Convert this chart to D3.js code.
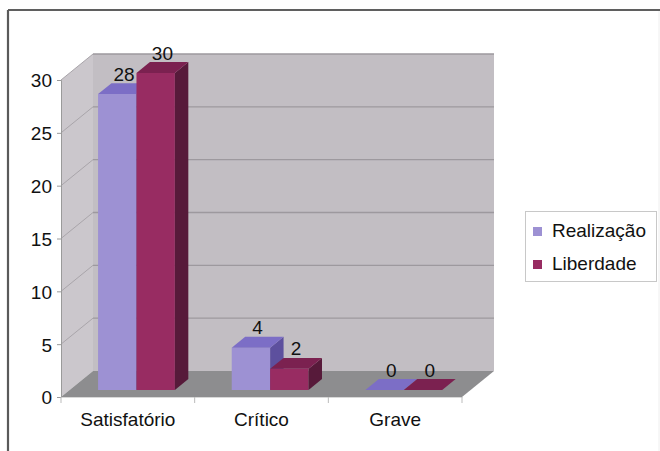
<!DOCTYPE html>
<html><head><meta charset="utf-8">
<script src="https://cdn.jsdelivr.net/npm/d3@7"></script>
<style>html,body{margin:0;padding:0;background:#fff;}svg{display:block;}</style>
</head><body>
<svg id="chart" width="660" height="451"></svg>
<script>
const categories = ["Satisfatório", "Crítico", "Grave"];
const seriesNames = ["Realização", "Liberdade"];
const realizacao = [28, 4, 0];
const liberdade = [30, 2, 0];
const yTicks = [0, 5, 10, 15, 20, 25, 30];

const seriesValues = [realizacao, liberdade];
const faceColors = {
  "Realização": {front: "#9d91d3", top: "#7c6ec6", side: "#5d509e"},
  "Liberdade": {front: "#982c62", top: "#7b2150", side: "#571a3a"}
};

const svg = d3.select("#chart");
const font = "'Liberation Sans', Arial, sans-serif";

// frame
svg.append("line").attr("x1", 8).attr("y1", 10).attr("x2", 660).attr("y2", 10)
  .attr("stroke", "#2a2a2a").attr("stroke-width", 1.6);
svg.append("line").attr("x1", 8).attr("y1", 10).attr("x2", 8).attr("y2", 451)
  .attr("stroke", "#5a5a5a").attr("stroke-width", 2.2);
svg.append("line").attr("x1", 659).attr("y1", 11).attr("x2", 659).attr("y2", 451)
  .attr("stroke", "#eeeeee").attr("stroke-width", 1);

// scales
const x = d3.scaleBand().domain(categories).range([61, 462]).paddingInner(0).paddingOuter(0);
const xs = d3.scaleBand().domain(seriesNames).range([0, x.bandwidth()]).paddingInner(0).paddingOuter(0.74);
const y = d3.scaleLinear().domain([0, 30]).range([397, 80]);
const DX = 32, DY = -26; // full depth offset
const z0 = 0.27, z1 = 0.69;
const P = (px, py, z) => [px + DX * z, py + DY * z];
const poly = pts => pts.map(p => p.join(",")).join(" ");

const x0 = x.range()[0], x1 = x.range()[1];
const y0 = y(0), yTop = y(30);

// walls
const g = svg.append("g");
g.append("polygon").attr("points", poly([P(x0, yTop, 1), P(x1, yTop, 1), P(x1, y0, 1), P(x0, y0, 1)]))
  .attr("fill", "#c2bec3");
g.append("polygon").attr("points", poly([P(x0, yTop, 0), P(x0, yTop, 1), P(x0, y0, 1), P(x0, y0, 0)]))
  .attr("fill", "#cbc7cc");
g.append("polygon").attr("points", poly([P(x0, y0, 0), P(x0, y0, 1), P(x1, y0, 1), P(x1, y0, 0)]))
  .attr("fill", "#8d8d8f");

// gridlines
yTicks.filter(t => t > 0).forEach(t => {
  const a = P(x0, y(t), 1), b = P(x1, y(t), 1), c = P(x0, y(t), 0);
  g.append("line").attr("x1", a[0]).attr("y1", a[1]).attr("x2", b[0]).attr("y2", b[1])
    .attr("stroke", "#9d999e").attr("stroke-width", 1.3);
  g.append("line").attr("x1", c[0]).attr("y1", c[1]).attr("x2", a[0]).attr("y2", a[1])
    .attr("stroke", "#a9a5aa").attr("stroke-width", 1);
});

// axes
const yAxis = d3.axisLeft(y).tickValues(yTicks).tickSize(4).tickPadding(5);
const ya = svg.append("g").attr("transform", `translate(${x0},0)`).call(yAxis);
ya.select(".domain").attr("stroke", "#9a9a9a");
ya.selectAll(".tick line").attr("stroke", "#9a9a9a");
ya.selectAll(".tick text").attr("font-family", font).attr("font-size", 19).attr("fill", "#111").attr("dy", "0.36em");

const xAxis = d3.axisBottom(x).tickSize(0).tickPadding(16);
const xa = svg.append("g").attr("transform", `translate(0,${y0})`).call(xAxis);
xa.select(".domain").attr("stroke", "#d8d8d8");
xa.selectAll(".tick text").attr("font-family", font).attr("font-size", 19).attr("fill", "#111");
// category separators
const seps = categories.map(c => x(c)).concat([x1]);
xa.selectAll("line.sep").data(seps).enter().append("line").attr("class", "sep")
  .attr("x1", d => d).attr("x2", d => d).attr("y1", 0).attr("y2", 6)
  .attr("stroke", "#bbbbbb");

// bars
const bars = svg.append("g");
categories.forEach((cat, ci) => {
  seriesNames.forEach((s, si) => {
    const v = seriesValues[si][ci];
    const bx0 = x(cat) + xs(s), bx1 = bx0 + xs.bandwidth();
    const yb = y(0), yt = y(v);
    const col = faceColors[s];
    // front
    bars.append("polygon").attr("points", poly([P(bx0, yt, z0), P(bx1, yt, z0), P(bx1, yb, z0), P(bx0, yb, z0)]))
      .attr("fill", col.front);
    // side
    bars.append("polygon").attr("points", poly([P(bx1, yt, z0), P(bx1, yt, z1), P(bx1, yb, z1), P(bx1, yb, z0)]))
      .attr("fill", col.side);
    // top
    bars.append("polygon").attr("points", poly([P(bx0, yt, z0), P(bx1, yt, z0), P(bx1, yt, z1), P(bx0, yt, z1)]))
      .attr("fill", col.top);
    // label
    const lp = P((bx0 + bx1) / 2, yt, (z0 + z1) / 2);
    bars.append("text").attr("x", lp[0]).attr("y", lp[1] - 8)
      .attr("text-anchor", "middle").attr("font-family", font).attr("font-size", 19).attr("fill", "#111")
      .text(v);
  });
});

// legend
const lg = svg.append("g");
lg.append("rect").attr("x", 525.5).attr("y", 211.5).attr("width", 131).attr("height", 70)
  .attr("fill", "#fff").attr("stroke", "#c8c8c8");
seriesNames.forEach((s, i) => {
  const cy = 231 + i * 33;
  lg.append("rect").attr("x", 533).attr("y", cy - 4).attr("width", 9).attr("height", 9)
    .attr("fill", faceColors[s].front);
  lg.append("text").attr("x", 552).attr("y", cy + 6).attr("font-family", font).attr("font-size", 19)
    .attr("fill", "#111").text(s);
});
</script>
</body></html>
